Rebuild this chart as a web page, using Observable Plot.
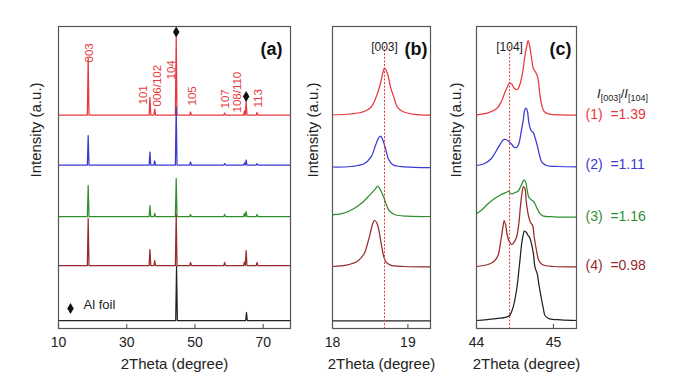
<!DOCTYPE html>
<html><head><meta charset="utf-8">
<script src="https://cdn.jsdelivr.net/npm/d3@7"></script>
<script src="https://cdn.jsdelivr.net/npm/@observablehq/plot@0.6"></script>
<style>
body{margin:0;background:#fff;}
#wrap{position:relative;width:679px;height:383px;overflow:hidden;font-family:"Liberation Sans",Arial,sans-serif;}
#wrap svg{position:absolute;top:0;}
#hdr{position:absolute;left:597px;top:86px;font-size:13px;color:#222;white-space:nowrap;}
#hdr sub{font-size:9px;vertical-align:-3px;}
</style></head><body><div id="wrap"><div id="hdr"><i>I</i><sub>[003]</sub>/<i>I</i><sub>[104]</sub></div></div>
<script>
// ---------- data ----------
const seriesNames = ["(1)", "(2)", "(3)", "(4)", "Al foil"];
const seriesColors = ["#e8383d", "#3a3ad2", "#2f8f2f", "#952b2b", "#222222"];
const offsets = [213.5, 163.5, 112, 63, 8];          // stacking level of each pattern (a.u.)
const ratioValues = ["1.39", "1.11", "1.16", "0.98"]; // I[003]/I[104]

// panel (a): peak positions and heights above each baseline
const twoThetaA = [18.7, 36.8, 38.2, 44.5, 48.7, 58.7, 64.5, 65.0, 68.2];
const peaksA1 = [57, 17.6, 6, 78, 3, 2, 4, 13.5, 2.5];
const peaksA2 = [29.5, 13, 4, 58, 3, 1.5, 2, 5, 1.5];
const peaksA3 = [31, 11, 3, 38, 2, 2, 3, 5, 2];
const peaksA4 = [47, 16, 5, 51, 3, 3, 3.5, 15, 3];
const twoThetaAl = [44.6, 65.1];
const peaksAl = [54, 8];
const hklLabels = ["003", "101", "006/102", "104", "105", "107", "108/110", "113"];
const hklLabel2Theta = [19.0, 35.0, 38.9, 43.1, 49.2, 59.0, 62.4, 68.6];
const hklLabelLevel = [266, 224, 222, 249, 223, 220, 216, 221];
const alMarkIndex = [3, 7];
const ticksA = [10, 30, 50, 70];

// panel (b): (003) region
const curveB1 = [[18.00,213.5],[18.24,214.5],[18.42,217],[18.51,221.3],[18.57,229.7],[18.63,243],[18.67,256.3],[18.69,260.3],[18.73,254.7],[18.77,241.3],[18.82,229.7],[18.86,221.3],[18.93,217],[19.08,214.2],[19.30,213.5]];
const curveB2 = [[18.00,161.5],[18.24,162],[18.42,164.7],[18.51,171.3],[18.57,183],[18.61,190.3],[18.64,192.3],[18.67,188],[18.71,178],[18.74,169.7],[18.80,163.7],[18.96,161.7],[19.30,161]];
const curveB3 = [[18.00,113.7],[18.15,115.3],[18.28,119.7],[18.40,126.3],[18.46,130.7],[18.53,136.3],[18.57,139.7],[18.60,142.3],[18.64,138],[18.68,131.3],[18.71,124.7],[18.75,118],[18.82,114],[19.00,112.3],[19.30,112]];
const curveB4 = [[18.00,62],[18.20,63.7],[18.33,67.3],[18.42,74.7],[18.47,86.3],[18.51,98],[18.54,106.3],[18.56,108],[18.59,105.3],[18.62,96.3],[18.65,83],[18.68,72],[18.71,66.3],[18.77,63.3],[18.95,62],[19.30,61.7]];
const curveB5 = [[18.00,7.7],[19.30,7.7]];
const ref003 = 18.69;
const ticksB = [18, 19];

// panel (c): (104) region
const curveC1 = [[44.00,213.7],[44.15,215.7],[44.26,219.7],[44.32,226.3],[44.37,236.3],[44.41,243],[44.43,245.7],[44.46,244.3],[44.49,240.3],[44.53,239],[44.56,243],[44.60,256.3],[44.63,273],[44.655,283],[44.67,288],[44.69,283],[44.72,268],[44.74,259.7],[44.77,256.3],[44.80,249.7],[44.82,236.3],[44.85,223],[44.88,217],[44.95,214.3],[45.10,213.7],[45.30,213.3]];
const curveC2 = [[44.00,163],[44.10,164.7],[44.19,169.7],[44.26,178],[44.31,184.7],[44.35,188.7],[44.38,189],[44.41,187.7],[44.45,184.7],[44.49,181.3],[44.52,181],[44.55,184.7],[44.58,196.3],[44.61,209.7],[44.625,218],[44.64,220.3],[44.66,218],[44.68,206.3],[44.71,198],[44.74,195.7],[44.76,191.3],[44.79,183],[44.82,173],[44.85,166.3],[44.91,163],[45.06,162],[45.30,161.7]];
const curveC3 = [[44.00,114.7],[44.06,118],[44.15,124.7],[44.23,129.7],[44.32,134],[44.39,136.3],[44.42,137.3],[44.44,135.3],[44.47,134.7],[44.50,136],[44.54,137.3],[44.57,141.3],[44.60,146.3],[44.62,148.7],[44.64,146.3],[44.66,138],[44.68,131.3],[44.71,128.7],[44.74,127.3],[44.76,124.7],[44.79,119.7],[44.82,115.3],[44.86,112.7],[45.01,111.7],[45.30,111.3]];
const curveC4 = [[44.00,62],[44.15,64],[44.23,67.3],[44.28,73],[44.31,84.7],[44.34,99.7],[44.36,108],[44.38,103],[44.40,93],[44.43,86.3],[44.46,84],[44.48,85.3],[44.52,91.3],[44.55,104.7],[44.57,121.3],[44.59,134.7],[44.61,142],[44.63,139.7],[44.65,124.7],[44.68,111.3],[44.70,106.3],[44.73,103],[44.75,91.3],[44.78,78],[44.81,68],[44.86,63.7],[45.01,62],[45.30,61.7]];
const curveC5 = [[44.00,8],[44.23,9.7],[44.39,11.3],[44.43,13],[44.47,19.7],[44.52,38],[44.56,64.7],[44.59,86.3],[44.61,94.7],[44.62,97.3],[44.65,96],[44.67,93],[44.69,91.3],[44.71,86.3],[44.74,74.7],[44.76,61.3],[44.79,54.7],[44.81,44.7],[44.84,31.3],[44.87,19.7],[44.89,13],[44.95,9.7],[45.10,8.7],[45.30,8]];
const ref104 = 44.43;
const ticksC = [44, 45];

// ---------- helpers ----------
const FONT = "Liberation Sans, Arial, Helvetica, sans-serif";
const NARROW = "Liberation Sans Narrow, Arial Narrow, Liberation Sans, sans-serif";
const INK = "#222";
const FRAME = "#555";
const LW = 1.25;

function stickPattern(thetas, heights, base, lo, hi) {
  const w = 0.24;
  const pts = [[lo, base]];
  thetas.forEach((t, i) => { pts.push([t - w, base], [t, base + heights[i]], [t + w, base]); });
  pts.push([hi, base]);
  return pts;
}

function common(ticks, labelDx, tag, tagDx) {
  return [
    Plot.frame({stroke: FRAME, strokeWidth: 1.2}),
    Plot.ruleX(ticks, {x: d => d, y1: 0, y2: 4, stroke: FRAME, strokeWidth: 1.1}),
    Plot.axisX(ticks, {tickSize: 0, tickPadding: 9, fontSize: 14, label: null, color: INK}),
    Plot.text(["2Theta (degree)"], {text: d => d, frameAnchor: "bottom", dy: 40, fontSize: 15, fill: INK}),
    Plot.text(["Intensity (a.u.)"], {text: d => d, frameAnchor: "left", dx: labelDx, rotate: -90, fontSize: 15, fill: INK}),
    Plot.text([tag], {text: d => d, frameAnchor: "top-right", dx: tagDx, dy: 16, textAnchor: "end", fontWeight: "bold", fontSize: 18, fill: "#111"})
  ];
}

function panel(opts) {
  return Plot.plot({
    width: opts.width, height: 383,
    marginTop: 26, marginBottom: 55, marginLeft: opts.marginLeft, marginRight: opts.marginRight,
    x: {domain: opts.domain, label: null},
    y: {domain: [0, 302], axis: null},
    style: {fontFamily: FONT, fontSize: "14px", background: "transparent", overflow: "visible"},
    marks: opts.marks
  });
}

const wrap = document.getElementById("wrap");
function place(svg, left) { svg.style.left = left + "px"; wrap.appendChild(svg); }

// ---------- panel (a) ----------
const peakSetsA = [peaksA1, peaksA2, peaksA3, peaksA4];
const patternsA = peakSetsA.map((p, i) => stickPattern(twoThetaA, p, offsets[i], 10, 78));
patternsA.push(stickPattern(twoThetaAl, peaksAl, offsets[4], 10, 78));
const hklData = hklLabels.map((h, i) => ({h, x: hklLabel2Theta[i], y: hklLabelLevel[i]}));
const alMarks = alMarkIndex.map(i => ({x: twoThetaA[i], y: offsets[0] + peaksA1[i] + 5}));

const marksA = [
  ...patternsA.map((pts, i) => Plot.line(pts, {x: d => d[0], y: d => d[1], stroke: seriesColors[i], strokeWidth: LW})),
  Plot.text(hklData, {x: "x", y: "y", text: "h", rotate: -90, textAnchor: "start", lineAnchor: "middle", fill: seriesColors[0], fontSize: 11.5, fontFamily: NARROW}),
  Plot.dot(alMarks, {x: "x", y: "y", symbol: "diamond", r: 3.4, fill: "#111", stroke: "none"}),
  Plot.dot([0], {frameAnchor: "bottom-left", dx: 12, dy: -20, symbol: "diamond", r: 3.4, fill: "#111", stroke: "none"}),
  Plot.text([seriesNames[4]], {text: d => d, frameAnchor: "bottom-left", dx: 25, dy: -20, textAnchor: "start", fontSize: 13, fill: INK}),
  ...common(ticksA, -22, "(a)", -8)
];
place(panel({width: 300, marginLeft: 58, marginRight: 10, domain: [10, 78], marks: marksA}), 0);

// ---------- panel (b) ----------
const curvesB = [curveB1, curveB2, curveB3, curveB4, curveB5];
const marksB = [
  ...curvesB.map((pts, i) => Plot.line(pts, {x: d => d[0], y: d => d[1], stroke: seriesColors[i], strokeWidth: LW, curve: "catmull-rom"})),
  Plot.ruleX([ref003], {x: d => d, insetTop: 20, stroke: seriesColors[0], strokeWidth: 1, strokeDasharray: "2,1.6"}),
  Plot.text([ref003], {x: d => d, text: () => "[003]", frameAnchor: "top", dy: 16, fontSize: 12, fill: INK}),
  ...common(ticksB, -19, "(b)", -3)
];
place(panel({width: 140, marginLeft: 32, marginRight: 10, domain: [18, 19.3], marks: marksB}), 300);

// ---------- panel (c) ----------
const curvesC = [curveC1, curveC2, curveC3, curveC4, curveC5];
const ratioData = ratioValues.map((r, i) => ({t: seriesNames[i] + "\u00a0 =" + r, y: offsets[i], c: seriesColors[i]}));
const marksC = [
  ...curvesC.map((pts, i) => Plot.line(pts, {x: d => d[0], y: d => d[1], stroke: seriesColors[i], strokeWidth: LW, curve: "catmull-rom"})),
  Plot.ruleX([ref104], {x: d => d, insetTop: 20, stroke: seriesColors[0], strokeWidth: 1, strokeDasharray: "2,1.6"}),
  Plot.text([ref104], {x: d => d, text: () => "[104]", frameAnchor: "top", dy: 16, fontSize: 12, fill: INK}),
  Plot.text(ratioData, {y: "y", text: "t", fill: d => d.c, frameAnchor: "right", dx: 9, textAnchor: "start", fontSize: 14}),
  ...common(ticksC, -20, "(c)", -5)
];
place(panel({width: 239, marginLeft: 36, marginRight: 103, domain: [44, 45.3], marks: marksC}), 440);
</script></body></html>
